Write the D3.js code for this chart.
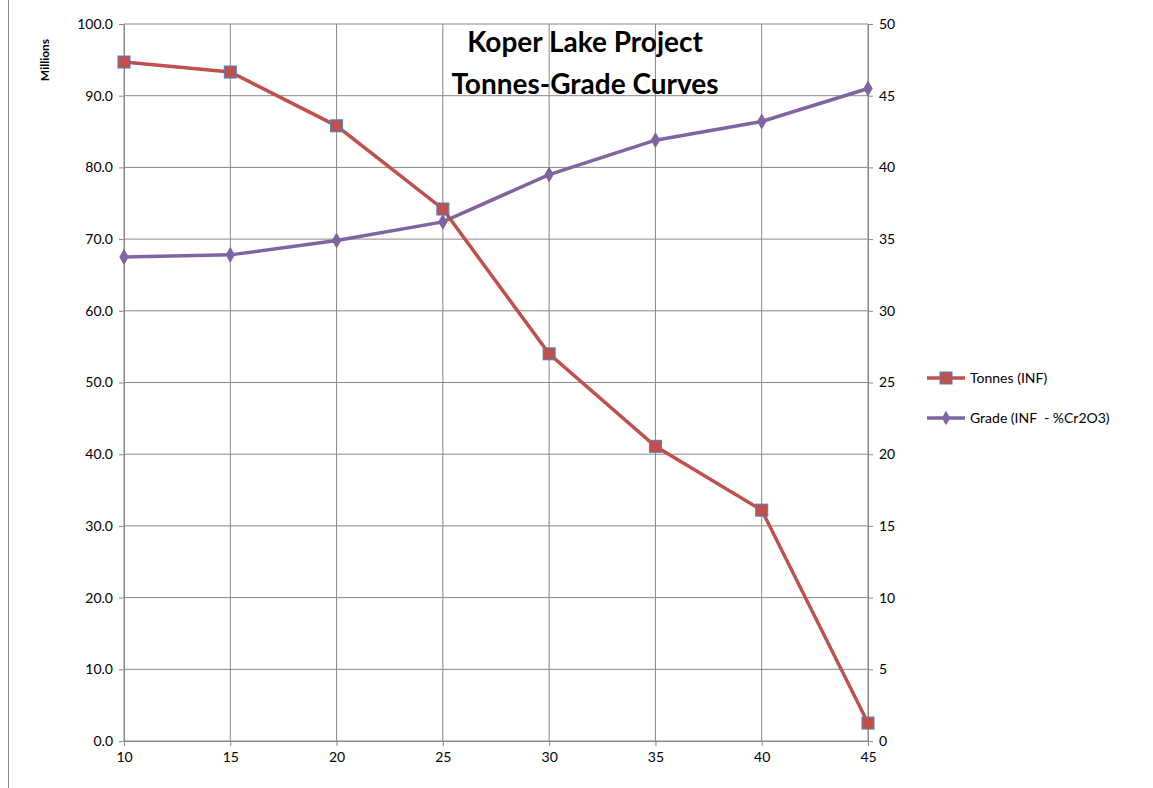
<!DOCTYPE html>
<html><head><meta charset="utf-8">
<script src="https://cdn.jsdelivr.net/npm/d3@7/dist/d3.min.js"></script>
<style>body{margin:0;background:#fff}svg{font-family:Lato,"Liberation Sans",Arial,sans-serif}</style>
</head><body><svg id="c" width="1153" height="788"></svg>
<script>
const cutoffs=[10,15,20,25,30,35,40,45];
const tonnes=[94.7,93.3,85.8,74.2,54.0,41.1,32.2,2.5];
const grade=[33.75,33.9,34.9,36.2,39.5,41.9,43.2,45.5];
const leftTicks=[0,10,20,30,40,50,60,70,80,90,100];
const rightTicks=[0,5,10,15,20,25,30,35,40,45,50];
const svg=d3.select("#c");
const L=124,R=868,T=24,B=741;
const x=d3.scaleLinear().domain([10,45]).range([L,R]);
const yl=d3.scaleLinear().domain([0,100]).range([B,T]);
const yr=d3.scaleLinear().domain([0,50]).range([B,T]);
svg.append("line").attr("x1",8.5).attr("x2",8.5).attr("y1",0).attr("y2",788).attr("stroke","#888");
const g=svg.append("g");
g.selectAll(".v").data(cutoffs).join("line").attr("x1",d=>x(d)).attr("x2",d=>x(d)).attr("y1",T).attr("y2",B).attr("stroke","#888");
g.selectAll(".h").data(leftTicks).join("line").attr("x1",L).attr("x2",R).attr("y1",d=>yl(d)).attr("y2",d=>yl(d)).attr("stroke","#888");
const ax=svg.append("g").attr("transform",`translate(0,${B})`).call(d3.axisBottom(x).tickValues(cutoffs).tickSize(5).tickPadding(6));
const al=svg.append("g").attr("transform",`translate(${L},0)`).call(d3.axisLeft(yl).tickValues(leftTicks).tickFormat(d3.format(".1f")).tickSize(5).tickPadding(6));
const ar=svg.append("g").attr("transform",`translate(${R},0)`).call(d3.axisRight(yr).tickValues(rightTicks).tickSize(5).tickPadding(6));
[ax,al,ar].forEach(a=>{a.selectAll("path,line").attr("stroke","#888");a.selectAll("text").attr("font-size",14).attr("fill","#000").attr("font-family","Lato, Liberation Sans, Arial");});
svg.append("text").attr("transform","translate(49,60) rotate(-90)").attr("text-anchor","middle").attr("font-size",12).attr("font-weight","bold").text("Millions");
svg.append("text").attr("x",585).attr("y",52).attr("text-anchor","middle").attr("font-size",28).attr("font-weight","bold").text("Koper Lake Project");
svg.append("text").attr("x",585).attr("y",94).attr("text-anchor","middle").attr("font-size",28).attr("font-weight","bold").text("Tonnes-Grade Curves");
const red="#c0504d",purple="#8064a2";
const lt=d3.line().x((d,i)=>x(cutoffs[i])).y(d=>yl(d));
const lg=d3.line().x((d,i)=>x(cutoffs[i])).y(d=>yr(d));
svg.append("path").attr("d",lg(grade)).attr("fill","none").attr("stroke",purple).attr("stroke-width",3.5);
svg.append("path").attr("d",lt(tonnes)).attr("fill","none").attr("stroke",red).attr("stroke-width",3.5);
svg.selectAll(".gm").data(grade).join("path").attr("d",d3.symbol(d3.symbolDiamond,60)).attr("transform",(d,i)=>`translate(${x(cutoffs[i])},${yr(d)})`).attr("fill",purple).attr("stroke",purple);
svg.selectAll(".tm").data(tonnes).join("rect").attr("x",(d,i)=>x(cutoffs[i])-6).attr("y",d=>yl(d)-6).attr("width",12).attr("height",12).attr("fill",red).attr("stroke","#4f81bd").attr("stroke-width",1);
const leg=[["Tonnes (INF)",red,"sq",378],["Grade (INF  - %Cr2O3)",purple,"di",418]];
leg.forEach(([t,c,s,yy])=>{
 svg.append("line").attr("x1",927).attr("x2",965).attr("y1",yy).attr("y2",yy).attr("stroke",c).attr("stroke-width",3.5);
 if(s=="sq")svg.append("rect").attr("x",940).attr("y",yy-6).attr("width",12).attr("height",12).attr("fill",c).attr("stroke","#4f81bd");
 else svg.append("path").attr("d",d3.symbol(d3.symbolDiamond,60)()).attr("transform",`translate(946,${yy})`).attr("fill",c);
 svg.append("text").attr("x",970).attr("y",yy+5).attr("font-size",14).attr("xml:space","preserve").text(t);
});
</script></body></html>
